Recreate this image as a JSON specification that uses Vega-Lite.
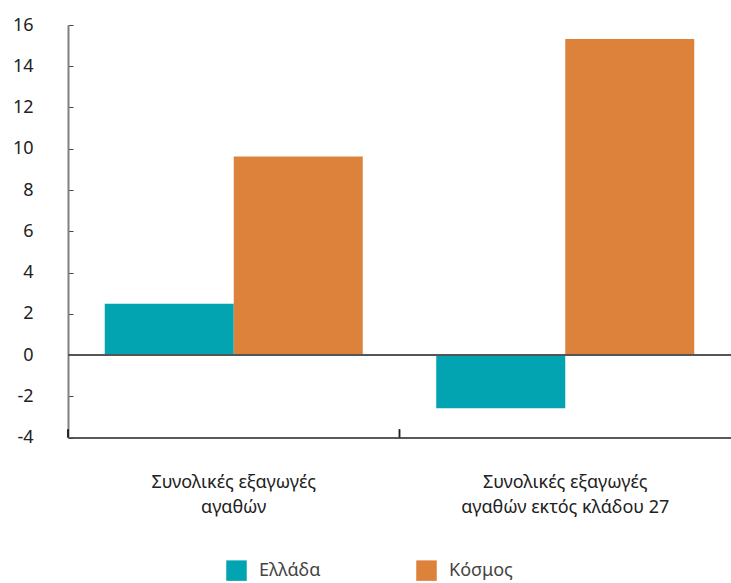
{
  "$schema": "https://vega.github.io/schema/vega-lite/v6.json",
  "autosize": {"type": "none"},
  "padding": {"left": 68, "top": 25, "right": 0, "bottom": 145.5},
  "width": 663,
  "height": 412.5,
  "background": "white",
  "config": {
    "view": {"stroke": null},
    "font": "Noto Sans",
    "axis": {"labelFont": "Noto Sans", "labelFontSize": 18, "labelColor": "#222222", "grid": false, "title": null}
  },
  "data": {
    "values": [
      {"category": "Συνολικές εξαγωγές αγαθών", "series": "Ελλάδα", "value": 2.48},
      {"category": "Συνολικές εξαγωγές αγαθών", "series": "Κόσμος", "value": 9.63},
      {"category": "Συνολικές εξαγωγές αγαθών εκτός κλάδου 27", "series": "Ελλάδα", "value": -2.58},
      {"category": "Συνολικές εξαγωγές αγαθών εκτός κλάδου 27", "series": "Κόσμος", "value": 15.32}
    ]
  },
  "encoding": {
    "x": {
      "field": "category",
      "type": "nominal",
      "sort": null,
      "scale": {"paddingInner": 0, "paddingOuter": 0},
      "axis": {
        "title": null,
        "labelAngle": 0,
        "ticks": false,
        "domainColor": "#222222",
        "domainWidth": 1.5,
        "labelPadding": 50,
        "labelBaseline": "alphabetic",
        "labelLineHeight": 25,
        "labelFontSize": 18,
        "labelDx": -10,
        "labelLimit": 400,
        "labelExpr": "datum.value == 'Συνολικές εξαγωγές αγαθών' ? ['Συνολικές εξαγωγές', 'αγαθών'] : ['Συνολικές εξαγωγές', 'αγαθών εκτός κλάδου 27']"
      }
    }
  },
  "layer": [
    {
      "mark": {"type": "bar"},
      "encoding": {
        "xOffset": {
          "field": "series",
          "type": "nominal",
          "scale": {"paddingInner": 0, "paddingOuter": 0.285}
        },
        "y": {
          "field": "value",
          "type": "quantitative",
          "scale": {"domain": [-4, 16], "nice": false, "zero": false},
          "axis": {
            "title": null,
            "values": [-4, -2, 0, 2, 4, 6, 8, 10, 12, 14, 16],
            "tickSize": -5,
            "tickColor": "#444444",
            "domainColor": "#808080",
            "domainWidth": 2,
            "labelPadding": 40,
            "labelAlign": "right",
            "labelExpr": "datum.value + ''"
          }
        },
        "color": {
          "field": "series",
          "type": "nominal",
          "scale": {"domain": ["Ελλάδα", "Κόσμος"], "range": ["#02a4b1", "#dc823a"]},
          "legend": {
            "title": null,
            "orient": "none",
            "direction": "horizontal",
            "legendX": 158,
            "legendY": 535,
            "symbolType": "square",
            "symbolSize": 420,
            "symbolStrokeWidth": 0,
            "symbolOpacity": 1,
            "labelFont": "Noto Sans",
            "labelFontSize": 18,
            "labelColor": "#444444",
            "labelOffset": 12,
            "columnPadding": 95
          }
        }
      }
    },
    {
      "mark": {"type": "rule", "color": "#555555", "strokeWidth": 1.5},
      "encoding": {"x": null, "y": {"datum": 0}}
    },
    {
      "mark": {"type": "rule", "color": "#222222", "strokeWidth": 1.5},
      "encoding": {
        "x": {"field": "category", "type": "nominal", "sort": null, "bandPosition": 0},
        "y": {"datum": -4},
        "y2": {"datum": -3.6}
      }
    }
  ]
}
